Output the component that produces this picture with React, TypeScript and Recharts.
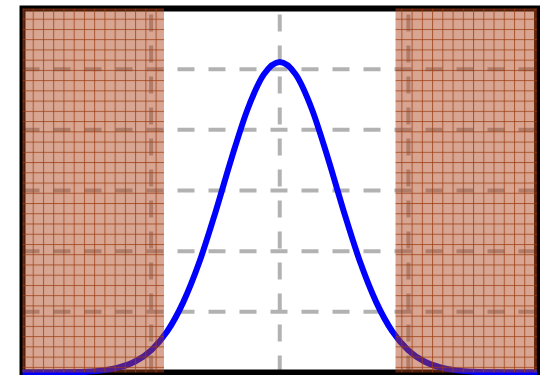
import React from "react";
import {
  LineChart,
  Line,
  XAxis,
  YAxis,
  CartesianGrid,
  ReferenceArea,
} from "recharts";

// Curve samples (x step 0.25)
const xs = [
  -4, -3.75, -3.5, -3.25, -3, -2.75, -2.5, -2.25, -2, -1.75, -1.5, -1.25, -1,
  -0.75, -0.5, -0.25, 0, 0.25, 0.5, 0.75, 1, 1.25, 1.5, 1.75, 2, 2.25, 2.5,
  2.75, 3, 3.25, 3.5, 3.75, 4,
];
const density = [
  0.0, 0.0001, 0.0002, 0.0005, 0.0013, 0.0035, 0.0083, 0.0181, 0.0365, 0.0677,
  0.116, 0.182, 0.264, 0.353, 0.434, 0.491, 0.512, 0.491, 0.434, 0.353, 0.264,
  0.182, 0.116, 0.0677, 0.0365, 0.0181, 0.0083, 0.0035, 0.0013, 0.0005, 0.0002,
  0.0001, 0.0,
];

const xTicks = [-4, -2, 0, 2, 4];
const yTicks = [0, 0.1, 0.2, 0.3, 0.4, 0.5, 0.6];

// rejection regions
const leftTail = [-4, -1.8];
const rightTail = [1.8, 4];

const data = xs.map((x, i) => ({ x, y: density[i] }));

const GRID = "#b2b2b2";

export default function App() {
  return (
    <div style={{ position: "absolute", left: 0, top: 0, background: "#fff" }}>
      <LineChart
        width={546}
        height={375}
        data={data}
        margin={{ top: 8.5, right: 9, bottom: 2.5, left: 22.5 }}
      >
        <defs>
          <pattern
            id="tailHatch"
            width={10.24}
            height={10.24}
            x={2}
            y={8.46}
            patternUnits="userSpaceOnUse"
          >
            <rect width={10.24} height={10.24} fill="#aa4015" fillOpacity={0.47} />
            <line x1={0.5} y1={0} x2={0.5} y2={10.24} stroke="#9a3a10" strokeOpacity={0.75} strokeWidth={1} />
            <line x1={0} y1={0.5} x2={10.24} y2={0.5} stroke="#9a3a10" strokeOpacity={0.75} strokeWidth={1} />
          </pattern>
        </defs>
        <XAxis type="number" dataKey="x" domain={[-4, 4]} ticks={xTicks} hide />
        <YAxis type="number" domain={[0, 0.6]} ticks={yTicks} hide />
        <CartesianGrid
          stroke={GRID}
          strokeWidth={4}
          strokeDasharray="17 14"
          vertical={(p: any) => (
            <line
              key={p.key ?? `v-${p.index}`}
              x1={p.x1}
              y1={p.y2}
              x2={p.x2}
              y2={p.y1}
              stroke={GRID}
              strokeWidth={4}
              strokeDasharray="17 14"
            />
          )}
        />
        <ReferenceArea
          x1={-4}
          x2={4}
          y1={0}
          y2={0.6}
          fill="none"
          fillOpacity={0}
          stroke="#000"
          strokeWidth={6}
          strokeOpacity={1}
          zIndex={300}
        />
        <Line
          type="monotone"
          dataKey="y"
          stroke="#0000ff"
          strokeWidth={6}
          dot={false}
          isAnimationActive={false}
        />
        <ReferenceArea
          x1={leftTail[0]}
          x2={leftTail[1]}
          y1={0}
          y2={0.6}
          fill="url(#tailHatch)"
          fillOpacity={1}
          zIndex={1000}
        />
        <ReferenceArea
          x1={rightTail[0]}
          x2={rightTail[1]}
          y1={0}
          y2={0.6}
          fill="url(#tailHatch)"
          fillOpacity={1}
          zIndex={1000}
        />
      </LineChart>
    </div>
  );
}
